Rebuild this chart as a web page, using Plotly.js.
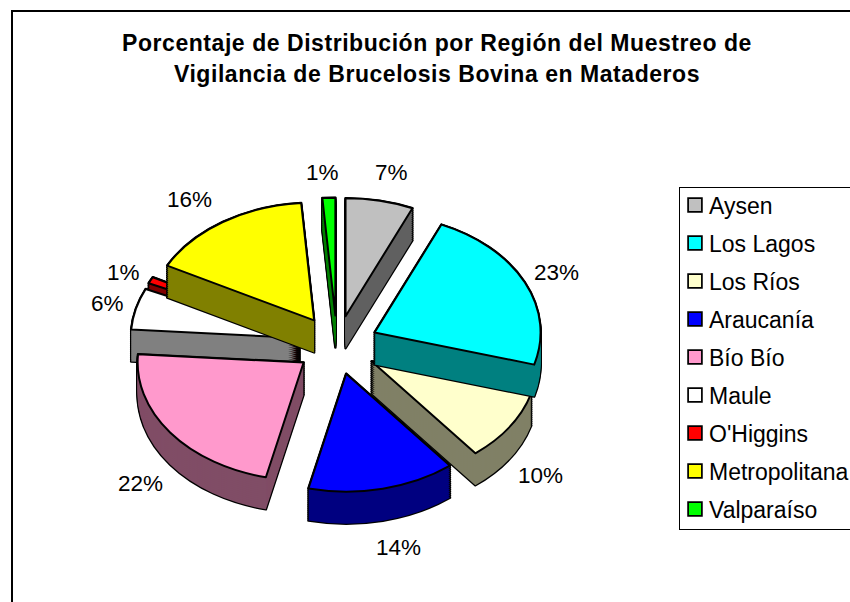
<!DOCTYPE html>
<html>
<head>
<meta charset="utf-8">
<script src="https://cdn.plot.ly/plotly-3.0.1.min.js"></script>
<style>html,body{margin:0;padding:0;background:#fff;overflow:hidden}</style>
</head>
<body>
<div id="chart" style="width:850px;height:602px"></div>
<script>
const regions = ["Aysen","Los Lagos","Los Ríos","Araucanía","Bío Bío","Maule","O'Higgins","Metropolitana","Valparaíso"];
const percents = [6.6,22.8,9.85,14.4,22.45,5.7,0.9,16.05,1.25];
const topColors = ["#C0C0C0","#00FFFF","#FFFFCC","#0000FF","#FF99CC","#FFFFFF","#FF0000","#FFFF00","#00FF00"];
const sideColors = ["#606060","#008080","#808066","#000080","#804D66","#808080","#800000","#808000","#008000"];
const titleText = "Porcentaje de Distribución por Región del Muestreo de<br>Vigilancia de Brucelosis Bovina en Mataderos";
const labelSpots = [[391,172],[556,273],[540,475],[398,547],[140,483],[108,303],[123,272],[189,199],[322,173]];
const backSlices = ["Maule","O'Higgins","Los Ríos"];

const W = 850, H = 602;
const cx = 337, cy = 345, rx = 166, squash = 0.71, depth = 32, step = 2, pull = 0.25;
const side = 2 * rx * (1 + pull);
const domain = {x:[(cx-side/2)/W,(cx+side/2)/W], y:[1-(cy+side/2)/H,1-(cy-side/2)/H]};
const CLEAR = "rgba(0,0,0,0)";

function pie(colors, lineColors, lineWidths, showlegend){
  return {type:"pie", labels:regions, values:percents, sort:false, direction:"clockwise", rotation:0,
    pull:regions.map(()=>pull), domain:domain, textinfo:"none", hoverinfo:"skip", showlegend:showlegend,
    marker:{colors:colors, line:{color:lineColors, width:lineWidths}}};
}
const traces = [], offsets = [];
traces.push(pie(topColors, regions.map(()=>"#000"), regions.map(()=>1.5), true)); offsets.push(0);
[r=>backSlices.includes(r), r=>!backSlices.includes(r)].forEach(inGroup=>{
  const pick = (a,b)=>regions.map((r,i)=>inGroup(r)?a[i]:b);
  for(let k=depth;k>=0;k-=step){
    traces.push(pie(regions.map(()=>CLEAR), pick(regions.map(()=>"#000"),CLEAR), pick(regions.map(()=>2.5),0), false));
    offsets.push(k);
  }
  for(let k=depth;k>=0;k-=step){
    traces.push(pie(pick(sideColors,CLEAR), regions.map(()=>CLEAR), regions.map(()=>0), false));
    offsets.push(k);
  }
  traces.push(pie(pick(topColors,CLEAR), pick(regions.map(()=>"#000"),CLEAR), pick(regions.map(()=>2),0), false));
  offsets.push(0);
});

const layout = {
  width:W, height:H, margin:{l:0,r:0,t:0,b:0,autoexpand:false}, paper_bgcolor:"#fff",
  font:{family:"Liberation Sans, Arial, sans-serif", color:"#000"},
  title:{text:titleText, font:{size:23, color:"#000", family:"Liberation Sans, Arial, sans-serif", weight:"bold"},
    x:437/W, xanchor:"center", y:1-35/H, yanchor:"top"},
  showlegend:true,
  legend:{x:679/W, y:1-187/H, xanchor:"left", yanchor:"top", bgcolor:"#fff", bordercolor:"#000", borderwidth:1,
    font:{size:23, color:"#000"}, traceorder:"normal"},
  shapes:[{type:"rect", xref:"paper", yref:"paper", x0:12/W, x1:(W+20)/W, y0:1-11/H, y1:-20/H, line:{color:"#000",width:2}, fillcolor:"#fff", layer:"below"}],
  annotations:percents.map((v,i)=>({xref:"paper", yref:"paper", x:labelSpots[i][0]/W, y:1-labelSpots[i][1]/H,
    text:Math.round(v)+"%", showarrow:false, xanchor:"center", yanchor:"middle", font:{size:22.5, color:"#000"}}))
};

Plotly.newPlot("chart", traces, layout, {staticPlot:true, displayModeBar:false}).then(gd=>{
  gd.querySelectorAll(".pielayer g.trace").forEach((g,i)=>{
    g.setAttribute("transform", `translate(0,${cy*(1-squash)+offsets[i]}) scale(1,${squash})`);
    g.querySelectorAll("path").forEach(p=>p.setAttribute("vector-effect","non-scaling-stroke"));
  });
  const lg = gd.querySelector(".legend");
  lg.setAttribute("transform","translate(679,187)");
  const box = lg.querySelector("rect.bg");
  box.setAttribute("width",200); box.setAttribute("height",342);
  const sb = lg.querySelector(".scrollbox");
  sb.removeAttribute("clip-path"); sb.setAttribute("transform","translate(0,0)");
  lg.querySelectorAll("g.traces").forEach((t,i)=>{
    t.setAttribute("transform",`translate(-4,${18+i*38})`);
    const tx = t.querySelector(".legendtext"); tx.setAttribute("x",34);
    t.querySelectorAll(".legendtext tspan").forEach(s=>s.setAttribute("x",34));
    t.querySelectorAll(".legendpie").forEach(p=>p.setAttribute("transform","translate(20,0) scale(1.15)"));
  });
  const title = gd.querySelector(".gtitle");
  title.style.letterSpacing = "0.55px";
  const lines = title.querySelectorAll("tspan.line");
  [51,82].forEach((y,i)=>{ if(lines[i]){ lines[i].setAttribute("y",y); lines[i].setAttribute("dy",0); } });
});
</script>
</body>
</html>
